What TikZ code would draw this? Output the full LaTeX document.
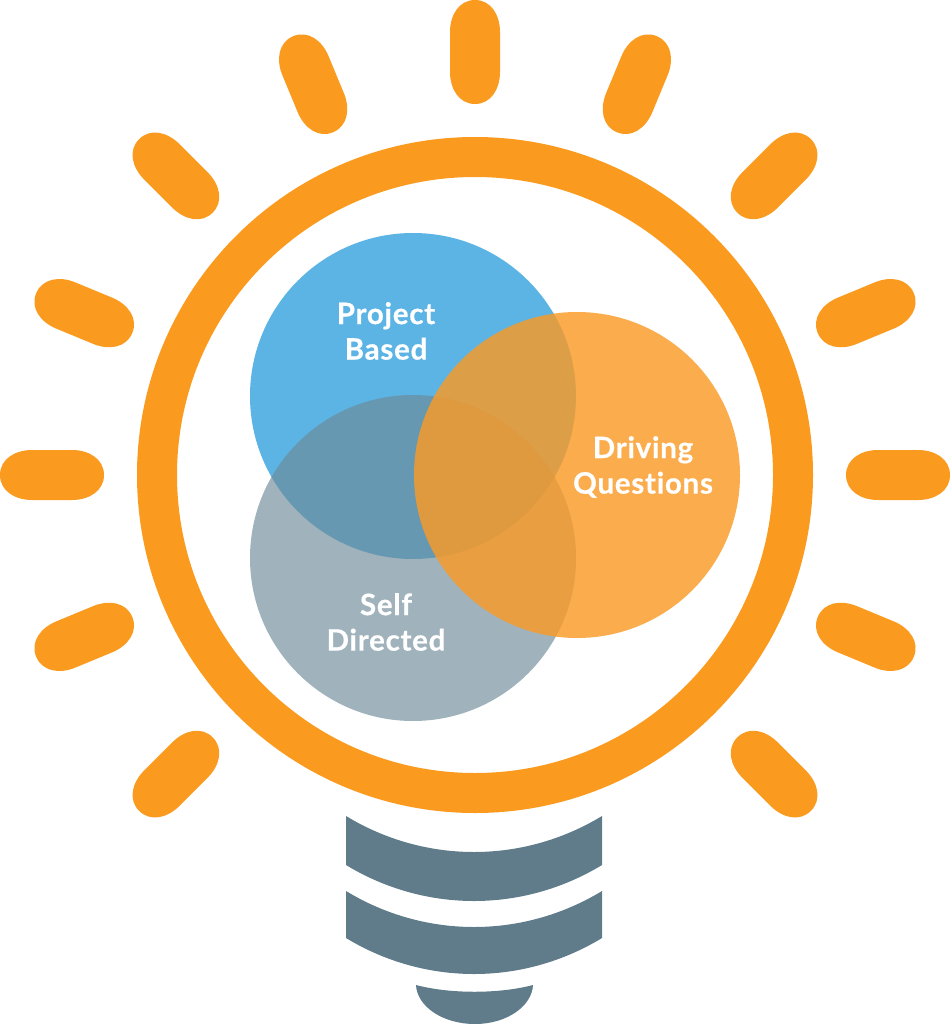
\documentclass[tikz,border=0pt]{standalone}
\usepackage{fontspec}
\setmainfont{Lato}[UprightFont=* Bold,LetterSpace=2.5,FakeBold=0.5,Ligatures=NoCommon]
\definecolor{bulborange}{HTML}{FA9A1F}
\definecolor{basegray}{HTML}{607C8A}
\definecolor{vennblue}{HTML}{5CB4E5}
\definecolor{venngray}{HTML}{6E8A97}
\definecolor{vennorange}{HTML}{FA9A26}
\tikzset{
  rayfill/.style={fill=bulborange,draw=none},
  ringstroke/.style={line width=40pt,draw=bulborange},
  vennlabel/.style={text=white,align=center,inner sep=0pt,font=\fontsize{29.5}{35.5}\selectfont},
  basefill/.style={fill=basegray,draw=none}
}
\begin{document}
\begin{tikzpicture}[x=1pt,y=-1pt]
\useasboundingbox (0,0) rectangle (950,1024);
% rays
\foreach \a in {-45,-22.5,0,22.5,45,67.5,90,112.5,135,157.5,180,202.5,225}
  \fill[rayfill,shift={({475+423*cos(\a)},{475-423*sin(\a)})},rotate=\a]
    (20,25) .. controls (37,25) and (52,16) .. (52,0)
    .. controls (52,-16) and (37,-25) .. (20,-25)
    -- (-20,-25) .. controls (-37,-25) and (-52,-16) .. (-52,0)
    .. controls (-52,16) and (-37,25) .. (-20,25) -- cycle;
% bulb ring
\draw[ringstroke] (475,475) circle[radius=318pt];
% venn circles
\fill[vennblue] (413,396) circle[radius=163pt];
\fill[venngray,fill opacity=.656] (413,558) circle[radius=163pt];
\fill[vennorange,fill opacity=.82] (577,475) circle[radius=163pt];
% labels
\node[vennlabel] (project) at (386,331) {Project\\Based};
\node[vennlabel] (driving) at (643,467) {Driving\\Questions};
\node[vennlabel] (self) at (386,622) {Self\\Directed};
% screw base
\fill[basefill] (346,816) .. controls (425,864) and (523,864) .. (602,816)
  -- (602,865) .. controls (523,913) and (425,913) .. (346,865) -- cycle;
\fill[basefill] (346,891) .. controls (425,939) and (523,939) .. (602,891)
  -- (602,938) .. controls (523,986) and (425,986) .. (346,938) -- cycle;
\fill[basefill] (416,985) .. controls (450,994) and (499,994) .. (533,985)
  .. controls (532,1006) and (507,1024) .. (475,1024)
  .. controls (442,1024) and (417,1006) .. (416,985) -- cycle;
\end{tikzpicture}
\end{document}
